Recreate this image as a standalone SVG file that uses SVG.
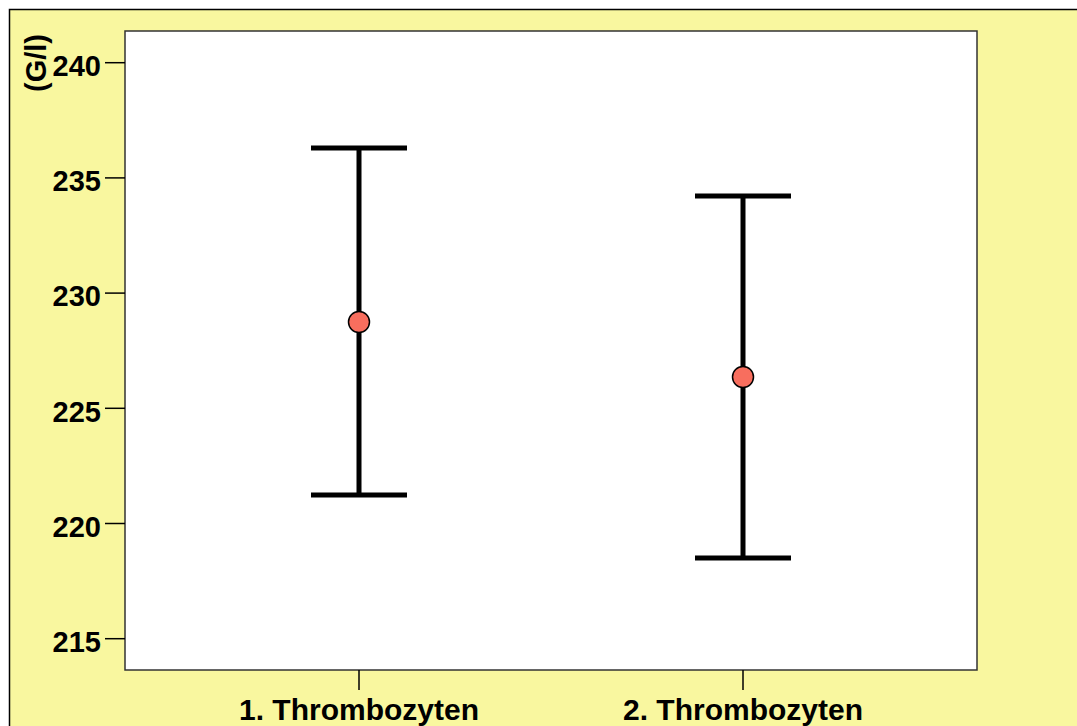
<svg xmlns="http://www.w3.org/2000/svg" width="1077" height="726" viewBox="0 0 1077 726">
<style>
.tl{font-family:"Liberation Sans",Arial,sans-serif;font-weight:bold;font-size:29px;fill:#000}
.xl{font-size:30px}
.tick{stroke:#000;stroke-width:1.5}
.bar{stroke:#000;stroke-width:5;fill:none}
.mean{fill:#F86E5E;stroke:#000;stroke-width:1.5}
</style>
<rect x="0" y="0" width="1077" height="726" fill="#fff"/>
<rect x="9.5" y="9.5" width="1080" height="730" fill="#F9F79F" stroke="#000" stroke-width="1.5"/>
<rect id="plot" x="125" y="31" width="852" height="639" fill="#fff" stroke="#333" stroke-width="1.5"/>
<g id="yaxis">
<line class="tick" x1="105" y1="62.7" x2="125" y2="62.7"/>
<line class="tick" x1="105" y1="177.9" x2="125" y2="177.9"/>
<line class="tick" x1="105" y1="293.1" x2="125" y2="293.1"/>
<line class="tick" x1="105" y1="408.3" x2="125" y2="408.3"/>
<line class="tick" x1="105" y1="523.5" x2="125" y2="523.5"/>
<line class="tick" x1="105" y1="638.7" x2="125" y2="638.7"/>
<text class="tl" x="101" y="76" text-anchor="end">240</text>
<text class="tl" x="101" y="191.2" text-anchor="end">235</text>
<text class="tl" x="101" y="306.4" text-anchor="end">230</text>
<text class="tl" x="101" y="421.6" text-anchor="end">225</text>
<text class="tl" x="101" y="536.8" text-anchor="end">220</text>
<text class="tl" x="101" y="652" text-anchor="end">215</text>
<text class="tl" transform="translate(46,63) rotate(-90)" text-anchor="middle">(G/l)</text>
</g>
<g id="xaxis">
<line class="tick" x1="359" y1="670" x2="359" y2="690"/>
<line class="tick" x1="743" y1="670" x2="743" y2="690"/>
<text class="tl xl" x="359" y="720" text-anchor="middle">1. Thrombozyten</text>
<text class="tl xl" x="743" y="720" text-anchor="middle">2. Thrombozyten</text>
</g>
<g id="connectors">
<path class="bar" d="M359 148V495M311 148H407M311 495H407"/>
<path class="bar" d="M743 196V558M695 196H791M695 558H791"/>
</g>
<g id="mean1"><circle class="mean" cx="359" cy="322" r="10.5"/></g>
<g id="mean2"><circle class="mean" cx="743" cy="377" r="10.5"/></g>
</svg>
